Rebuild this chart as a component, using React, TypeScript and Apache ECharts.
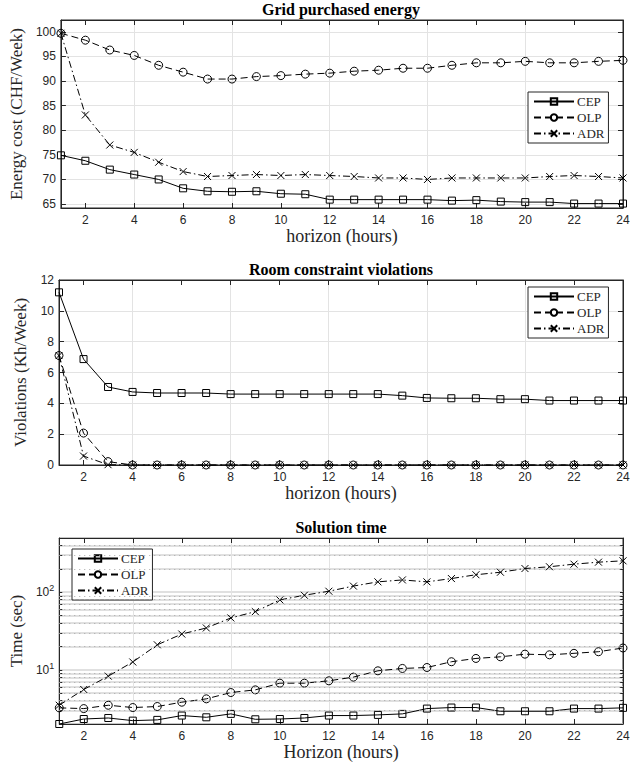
import React, { useEffect, useRef } from "react";
import * as echarts from "echarts";

const hours = [1, 2, 3, 4, 5, 6, 7, 8, 9, 10, 11, 12, 13, 14, 15, 16, 17, 18, 19, 20, 21, 22, 23, 24];
const xTickValues = [2, 4, 6, 8, 10, 12, 14, 16, 18, 20, 22, 24];

const energyCEP = [74.9, 73.8, 72.0, 71.0, 70.0, 68.2, 67.6, 67.5, 67.6, 67.1, 67.0, 65.9, 65.9, 65.9, 65.9, 65.9, 65.7, 65.8, 65.5, 65.4, 65.4, 65.1, 65.1, 65.1];
const energyOLP = [99.7, 98.3, 96.3, 95.2, 93.2, 91.8, 90.4, 90.4, 90.9, 91.1, 91.4, 91.6, 92.0, 92.2, 92.6, 92.6, 93.2, 93.7, 93.7, 94.0, 93.7, 93.7, 94.0, 94.2];
const energyADR = [99.7, 83.1, 77.0, 75.5, 73.5, 71.6, 70.6, 70.8, 71.0, 70.8, 71.0, 70.8, 70.6, 70.3, 70.3, 70.0, 70.3, 70.3, 70.3, 70.3, 70.6, 70.8, 70.6, 70.3];

const violCEP = [11.2, 6.87, 5.06, 4.74, 4.67, 4.67, 4.67, 4.6, 4.6, 4.6, 4.6, 4.6, 4.6, 4.6, 4.5, 4.35, 4.33, 4.33, 4.27, 4.27, 4.18, 4.18, 4.18, 4.18];
const violOLP = [7.1, 2.07, 0.22, 0, 0, 0, 0, 0, 0, 0, 0, 0, 0, 0, 0, 0, 0, 0, 0, 0, 0, 0, 0, 0];
const violADR = [7.1, 0.58, 0.02, 0, 0, 0, 0, 0, 0, 0, 0, 0, 0, 0, 0, 0, 0, 0, 0, 0, 0, 0, 0, 0];

const timeCEP = [2.0, 2.32, 2.39, 2.21, 2.26, 2.57, 2.44, 2.7, 2.3, 2.32, 2.39, 2.57, 2.57, 2.62, 2.7, 3.16, 3.26, 3.26, 2.92, 2.92, 2.92, 3.16, 3.16, 3.23];
const timeOLP = [3.23, 3.16, 3.49, 3.26, 3.36, 3.82, 4.22, 5.09, 5.51, 6.72, 6.72, 7.21, 8.04, 9.7, 10.4, 10.7, 12.7, 14.0, 14.7, 15.9, 15.6, 16.3, 17.1, 19.1];
const timeADR = [3.49, 5.57, 8.28, 12.6, 21.0, 28.9, 34.6, 46.6, 56.2, 79.6, 91.4, 103, 120, 136, 144, 136, 150, 168, 181, 202, 213, 230, 244, 254];

const logMinorValues = [3, 4, 5, 6, 7, 8, 9, 20, 30, 40, 50, 60, 70, 80, 90, 200, 300, 400];
const logTickValues = [2, 3, 4, 5, 6, 7, 8, 9, 10, 20, 30, 40, 50, 60, 70, 80, 90, 100, 200, 300, 400, 500];

const titles = ["Grid purchased energy", "Room constraint violations", "Solution time"];
const yNames = ["Energy cost (CHF/Week)", "Violations (Kh/Week)", "Time (sec)"];
const xNames = ["horizon (hours)", "horizon (hours)", "Horizon (hours)"];
const seriesNames = ["CEP", "OLP", "ADR"];

const SERIF = "Liberation Serif";
const SANS = "Liberation Sans";
const AXIS = "#262626";
const GRIDC = "#e3e3e3";

const grids = [
  { left: 59, top: 20, width: 564, height: 188 },
  { left: 59, top: 280, width: 564, height: 185 },
  { left: 59, top: 538, width: 564, height: 186 },
];

const lineTypes: any[] = ["solid", [7, 4], [7, 3, 1.5, 3]];
const symbols = ["rect", "circle", "path://M0,0L10,10M0,10L10,0"];
const symbolSizes = [7, 8, 7];

export default function App() {
  const ref = useRef<HTMLDivElement>(null);

  useEffect(() => {
    if (!ref.current) return;
    const chart = echarts.init(ref.current, null, { renderer: "svg" });

    const xAxes: any[] = [];
    const yAxes: any[] = [];
    grids.forEach((_, gi) => {
      xAxes.push({
        type: "value",
        gridIndex: gi,
        min: 1,
        max: 24,
        minInterval: 1,
        maxInterval: 1,
        name: xNames[gi],
        nameLocation: "middle",
        nameGap: 19,
        nameTextStyle: { fontFamily: SERIF, fontSize: 18, color: AXIS },
        axisLine: { show: true, onZero: false, lineStyle: { color: AXIS } },
        axisTick: { show: true, inside: true, length: 5, customValues: xTickValues, lineStyle: { color: AXIS } },
        axisLabel: {
          show: true,
          margin: 6,
          fontFamily: SANS,
          fontSize: 12,
          color: AXIS,
          formatter: (v: number) => (Math.round(v) % 2 === 0 ? String(Math.round(v)) : ""),
        },
        splitLine: { show: true, lineStyle: { color: ["rgba(0,0,0,0)", GRIDC], width: 1 } },
      });
      xAxes.push({
        type: "value",
        gridIndex: gi,
        position: "top",
        min: 1,
        max: 24,
        minInterval: 1,
        maxInterval: 1,
        axisLine: { show: true, onZero: false, lineStyle: { color: AXIS } },
        axisTick: { show: true, inside: true, length: 5, customValues: xTickValues, lineStyle: { color: AXIS } },
        axisLabel: { show: false },
        splitLine: { show: false },
      });

      if (gi === 0 || gi === 1) {
        const min = gi === 0 ? 64.2 : 0;
        const max = gi === 0 ? 102.4 : 12;
        const step = gi === 0 ? 5 : 2;
        const base = {
          type: "value",
          gridIndex: gi,
          min,
          max,
          minInterval: step,
          maxInterval: step,
        };
        yAxes.push({
          ...base,
          name: yNames[gi],
          nameLocation: "middle",
          nameGap: 30,
          nameTextStyle: { fontFamily: SERIF, fontSize: 17, color: AXIS },
          axisLine: { show: true, onZero: false, lineStyle: { color: AXIS } },
          axisTick: { show: true, inside: true, length: 5, lineStyle: { color: AXIS } },
          axisLabel: {
            margin: 5,
            fontFamily: SANS,
            fontSize: 12,
            color: AXIS,
            formatter: (v: number) => {
              const r = Math.round(v / step) * step;
              return Math.abs(v - r) < 1e-6 ? String(r) : "";
            },
          },
          splitLine: { show: true, lineStyle: { color: GRIDC, width: 1 } },
        });
        yAxes.push({
          ...base,
          position: "right",
          axisLine: { show: true, onZero: false, lineStyle: { color: AXIS } },
          axisTick: { show: true, inside: true, length: 5, lineStyle: { color: AXIS } },
          axisLabel: { show: false },
          splitLine: { show: false },
        });
      } else {
        const base = { type: "log", logBase: 10, gridIndex: gi, min: 2, max: 500 };
        yAxes.push({
          ...base,
          name: yNames[gi],
          nameLocation: "middle",
          nameGap: 30,
          nameTextStyle: { fontFamily: SERIF, fontSize: 17, color: AXIS },
          axisLine: { show: true, onZero: false, lineStyle: { color: AXIS } },
          axisTick: { show: true, inside: true, length: 3, customValues: logTickValues, lineStyle: { color: AXIS } },
          axisLabel: {
            margin: 5,
            fontFamily: SANS,
            fontSize: 12,
            color: AXIS,
            formatter: (v: number) => {
              const l = Math.log10(v);
              const r = Math.round(l);
              return Math.abs(l - r) < 1e-6 ? "10{sup|" + r + "}" : "";
            },
            rich: {
              sup: { fontFamily: SANS, fontSize: 9, color: AXIS, padding: [0, 0, 8, 0] },
            },
          },
          splitLine: { show: true, lineStyle: { color: "#d6d6d6", width: 1.5 } },
        });
        yAxes.push({
          ...base,
          position: "right",
          axisLine: { show: true, onZero: false, lineStyle: { color: AXIS } },
          axisTick: { show: true, inside: true, length: 3, customValues: logTickValues, lineStyle: { color: AXIS } },
          axisLabel: { show: false },
          splitLine: { show: false },
        });
      }
    });

    const dataSets = [
      [energyCEP, energyOLP, energyADR],
      [violCEP, violOLP, violADR],
      [timeCEP, timeOLP, timeADR],
    ];

    const series: any[] = [];
    // minor dotted grid for log chart
    series.push({
      type: "line",
      name: "minor",
      xAxisIndex: 4,
      yAxisIndex: 4,
      data: [],
      z: 1,
      silent: true,
      markLine: {
        silent: true,
        symbol: "none",
        animation: false,
        label: { show: false },
        lineStyle: { type: [1, 4], color: "#a8a8a8", width: 1 },
        data: logMinorValues.map((v) => ({ yAxis: v })),
      },
    });

    dataSets.forEach((set, gi) => {
      set.forEach((vals, si) => {
        series.push({
          type: "line",
          name: seriesNames[si],
          xAxisIndex: gi * 2,
          yAxisIndex: gi * 2,
          data: hours.map((h, i) => [h, vals[i]]),
          clip: false,
          z: 3,
          symbol: symbols[si],
          symbolSize: symbolSizes[si],
          showAllSymbol: true,
          lineStyle: { color: "#000", width: 1, type: lineTypes[si] },
          itemStyle: { color: "rgba(0,0,0,0)", borderColor: "#000", borderWidth: 1 },
          emphasis: { disabled: true },
        });
      });
    });

    const legendBase = {
      orient: "vertical",
      data: seriesNames,
      itemWidth: 40,
      itemHeight: 8,
      itemGap: 3,
      padding: [3, 4, 3, 5],
      backgroundColor: "#fff",
      borderColor: AXIS,
      borderWidth: 1,
      borderRadius: 0,
      selectedMode: false,
      textStyle: { fontFamily: SERIF, fontSize: 13, color: AXIS, padding: [0, 0, 0, -2] },
    };

    const option: any = {
      animation: false,
      grid: grids.map((g) => ({ ...g, show: true, borderColor: AXIS, borderWidth: 1, backgroundColor: "rgba(0,0,0,0)" })),
      xAxis: xAxes,
      yAxis: yAxes,
      series,
      legend: [
        { ...legendBase, left: 528, top: 92 },
        { ...legendBase, left: 528, top: 287 },
        { ...legendBase, left: 72, top: 549 },
      ],
      graphic: titles.map((t, i) => ({
        type: "text",
        x: grids[i].left + grids[i].width / 2,
        y: grids[i].top - 11,
        style: {
          text: t,
          font: 'bold 16px "' + SERIF + '"',
          fill: "#000",
          textAlign: "center",
          textVerticalAlign: "middle",
        },
      })),
    };

    chart.setOption(option);
    return () => chart.dispose();
  }, []);

  return (
    <div
      ref={ref}
      style={{ position: "absolute", left: 0, top: 0, width: 644, height: 764, background: "#fff" }}
    />
  );
}
